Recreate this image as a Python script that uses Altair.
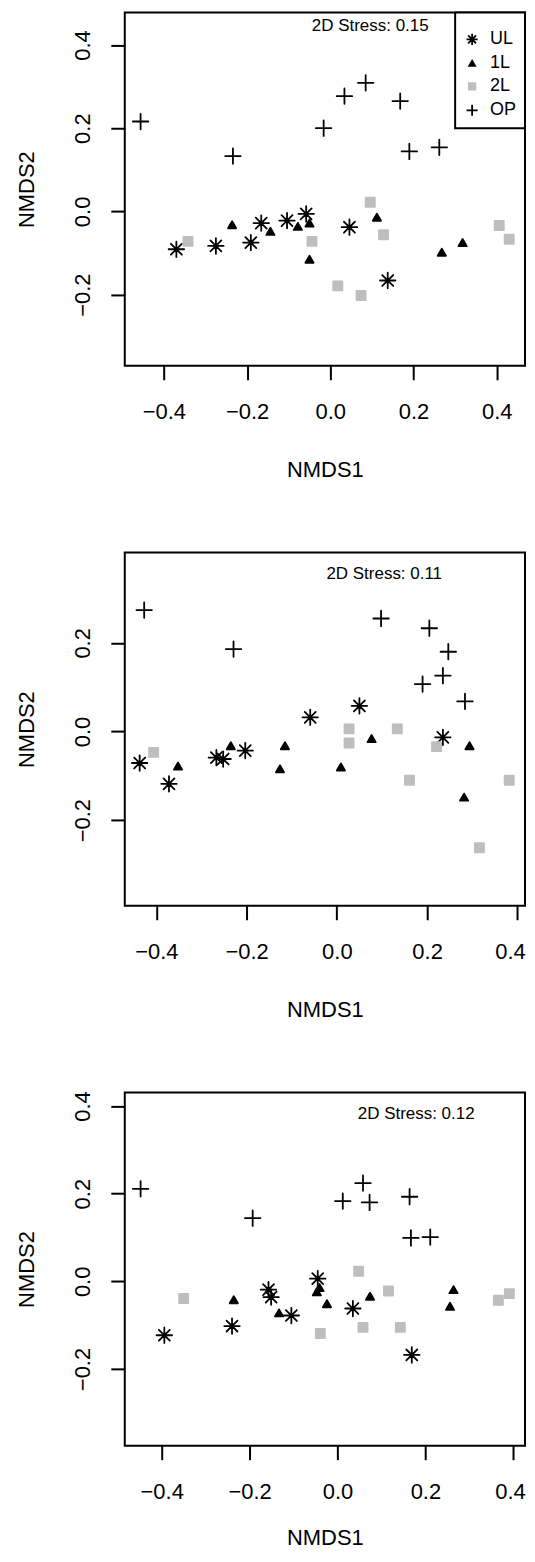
import altair as alt
import pandas as pd

FONT = "Liberation Sans"
GROUPS = ["UL", "1L", "2L", "OP"]
X_TICKS = [-0.4, -0.2, 0.0, 0.2, 0.4]

# ---------------- Panel 1 ----------------
P1_UL_X = [-0.370, -0.275, -0.191, -0.166, -0.104, -0.058, 0.046, 0.138]
P1_UL_Y = [-0.091, -0.083, -0.075, -0.028, -0.022, -0.006, -0.038, -0.166]
P1_1L_X = [-0.236, -0.144, -0.078, -0.050, -0.050, 0.112, 0.268, 0.318]
P1_1L_Y = [-0.032, -0.048, -0.036, -0.028, -0.115, -0.014, -0.098, -0.075]
P1_2L_X = [-0.342, -0.044, 0.096, 0.128, 0.018, 0.074, 0.406, 0.430]
P1_2L_Y = [-0.072, -0.072, 0.022, -0.056, -0.179, -0.202, -0.034, -0.067]
P1_OP_X = [-0.456, -0.234, -0.016, 0.034, 0.085, 0.168, 0.190, 0.262]
P1_OP_Y = [0.216, 0.133, 0.200, 0.277, 0.309, 0.265, 0.144, 0.154]

# ---------------- Panel 2 ----------------
P2_UL_X = [-0.437, -0.372, -0.267, -0.252, -0.203, -0.059, 0.050, 0.235]
P2_UL_Y = [-0.071, -0.118, -0.059, -0.062, -0.043, 0.032, 0.058, -0.013]
P2_1L_X = [-0.352, -0.235, -0.115, -0.126, 0.009, 0.077, 0.294, 0.282]
P2_1L_Y = [-0.078, -0.032, -0.032, -0.084, -0.080, -0.016, -0.032, -0.148]
P2_2L_X = [-0.406, 0.027, 0.027, 0.134, 0.161, 0.221, 0.382, 0.316]
P2_2L_Y = [-0.047, 0.006, -0.026, 0.006, -0.110, -0.034, -0.110, -0.262]
P2_OP_X = [-0.427, -0.229, 0.098, 0.205, 0.247, 0.190, 0.235, 0.284]
P2_OP_Y = [0.274, 0.186, 0.255, 0.233, 0.180, 0.107, 0.126, 0.068]

# ---------------- Panel 3 ----------------
P3_UL_X = [-0.394, -0.240, -0.157, -0.151, -0.105, -0.045, 0.035, 0.169]
P3_UL_Y = [-0.123, -0.102, -0.019, -0.036, -0.078, 0.006, -0.062, -0.168]
P3_1L_X = [-0.236, -0.133, -0.047, -0.041, -0.024, 0.074, 0.264, 0.256]
P3_1L_Y = [-0.042, -0.072, -0.024, -0.014, -0.051, -0.034, -0.019, -0.057]
P3_2L_X = [-0.350, -0.039, 0.048, 0.058, 0.116, 0.143, 0.366, 0.391]
P3_2L_Y = [-0.039, -0.119, 0.023, -0.105, -0.022, -0.105, -0.043, -0.028]
P3_OP_X = [-0.448, -0.193, 0.012, 0.058, 0.073, 0.164, 0.167, 0.211]
P3_OP_Y = [0.211, 0.144, 0.183, 0.224, 0.180, 0.193, 0.099, 0.101]

STRESS_LABELS = ["2D Stress: 0.15", "2D Stress: 0.11", "2D Stress: 0.12"]
STRESS_X = [0.096, 0.105, 0.179]
STRESS_Y = [0.445, 0.356, 0.382]

X_DOMAINS = [[-0.494, 0.468], [-0.470, 0.417], [-0.484, 0.4266]]
Y_DOMAINS = [[-0.371, 0.478], [-0.393, 0.404], [-0.375, 0.431]]
Y_TICKS = [[-0.2, 0.0, 0.2, 0.4], [-0.2, 0.0, 0.2], [-0.2, 0.0, 0.2, 0.4]]
X_TITLE_Y = [111, 111, 99]
# keep the right-most tick label inside the page
X_FLUSH = [False, 9, 13]
X_FLUSH_OFFSET = [0, 8, 12]

# symbol styles
ASTER = "M-1,0L1,0M0,-1L0,1M-0.707,-0.707L0.707,0.707M-0.707,0.707L0.707,-0.707"
TRI = "M0,-0.46L0.53,0.46L-0.53,0.46Z"
SQUARE = "M-0.59,-0.59L0.59,-0.59L0.59,0.59L-0.59,0.59Z"
PLUS = "M-1,0L1,0M0,-1L0,1"
SHAPES = [ASTER, TRI, SQUARE, PLUS]
COLORS = ["black", "black", "#bebebe", "black"]

W, H = 401, 354
SPACING = 187


def make_df(sets):
    rows = []
    for g, (xs, ys) in zip(GROUPS, sets):
        for x, y in zip(xs, ys):
            rows.append({"x": x, "y": y, "group": g})
    return pd.DataFrame(rows)


def panel(df, i, with_legend):
    xenc = alt.X(
        "x:Q",
        scale=alt.Scale(domain=X_DOMAINS[i], nice=False, zero=False),
        axis=alt.Axis(values=X_TICKS, format=".1f", title="NMDS1",
                      labelPadding=22, labelFlush=X_FLUSH[i],
                      labelFlushOffset=X_FLUSH_OFFSET[i], labelOverlap=False,
                      titleX=W / 2, titleY=X_TITLE_Y[i], titleBaseline="alphabetic",
                      titleAlign="center"),
    )
    yenc = alt.Y(
        "y:Q",
        scale=alt.Scale(domain=Y_DOMAINS[i], nice=False, zero=False),
        axis=alt.Axis(values=Y_TICKS[i], format=".1f", title="NMDS2",
                      labelAngle=270, labelAlign="center", labelBaseline="bottom",
                      labelPadding=16, labelFlush=False, labelOverlap=False,
                      titleAngle=270, titleX=-91, titleY=H / 2,
                      titleBaseline="alphabetic", titleAlign="center"),
    )
    if with_legend:
        leg = alt.Legend(title=" ", titleFontSize=1, titlePadding=9,
                         orient="top-right", offset=0, padding=8,
                         rowPadding=5, labelFontSize=18, labelFont=FONT,
                         labelColor="black", symbolSize=125, symbolStrokeWidth=1.8,
                         labelOffset=9, strokeColor="black", fillColor="white")
    else:
        leg = None
    pts = alt.Chart(df).mark_point(
        filled=True, size=240, strokeWidth=1.8, strokeCap="round",
        strokeJoin="round", opacity=1,
    ).encode(
        x=xenc, y=yenc,
        shape=alt.Shape("group:N", scale=alt.Scale(domain=GROUPS, range=SHAPES), legend=leg),
        fill=alt.Fill("group:N", scale=alt.Scale(domain=GROUPS, range=COLORS), legend=leg),
        stroke=alt.Stroke("group:N", scale=alt.Scale(domain=GROUPS, range=COLORS), legend=leg),
    )
    tdf = pd.DataFrame({"x": [STRESS_X[i]], "y": [STRESS_Y[i]], "label": [STRESS_LABELS[i]]})
    txt = alt.Chart(tdf).mark_text(
        font=FONT, fontSize=17, color="black", align="center", baseline="middle"
    ).encode(x=xenc, y=yenc, text="label:N")
    return alt.layer(pts, txt).properties(width=W, height=H)


df1 = make_df([(P1_UL_X, P1_UL_Y), (P1_1L_X, P1_1L_Y), (P1_2L_X, P1_2L_Y), (P1_OP_X, P1_OP_Y)])
df2 = make_df([(P2_UL_X, P2_UL_Y), (P2_1L_X, P2_1L_Y), (P2_2L_X, P2_2L_Y), (P2_OP_X, P2_OP_Y)])
df3 = make_df([(P3_UL_X, P3_UL_Y), (P3_1L_X, P3_1L_Y), (P3_2L_X, P3_2L_Y), (P3_OP_X, P3_OP_Y)])

chart = alt.vconcat(
    panel(df1, 0, True), panel(df2, 1, False), panel(df3, 2, False),
    spacing=SPACING, bounds="flush",
).resolve_scale(
    x="independent", y="independent", shape="independent",
    fill="independent", stroke="independent",
).resolve_legend(
    shape="independent", fill="independent", stroke="independent",
).properties(
    padding={"left": 7, "top": 1, "right": 0, "bottom": 0},
    background="white",
).configure_view(
    stroke="black", strokeWidth=2, fill="white",
).configure_axis(
    domain=False, grid=False, ticks=True, tickColor="black", tickWidth=2,
    tickSize=14, labelFont=FONT, labelFontSize=22, labelColor="black",
    titleFont=FONT, titleFontSize=22, titleFontWeight="normal", titleColor="black",
).configure_legend(
    strokeWidth=2,
)

chart.save("out.html", embed_options={"renderer": "svg", "actions": False})
